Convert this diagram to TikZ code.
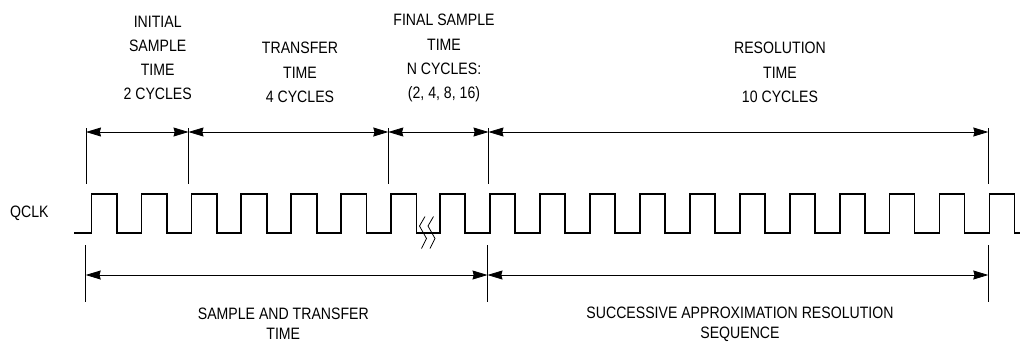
\documentclass[tikz,border=0pt]{standalone}
\usepackage{fontspec}
\setmainfont{Liberation Sans}[FakeStretch=0.855]
\usetikzlibrary{arrows.meta}
\begin{document}
\begin{tikzpicture}[x=1pt,y=-1pt,
  toplbl/.style={align=center,inner sep=0pt,anchor=north,font=\fontsize{16.5}{24.3}\selectfont},
  botlbl/.style={align=center,inner sep=0pt,anchor=north,font=\fontsize{16.5}{20}\selectfont},
  tick/.style={line width=0.8pt},
  dim/.style={line width=0.8pt,{Stealth[length=15pt,width=9pt,inset=1.2pt]}-{Stealth[length=15pt,width=9pt,inset=1.2pt]}},
  clk/.style={line width=1.8pt,line join=miter},
  brk/.style={line width=0.8pt}]
\useasboundingbox (0,0) rectangle (1020,341);

% top labels
\node[toplbl] (lInit) at (157.7,15.5) {INITIAL\\SAMPLE\\TIME\\2 CYCLES};
\node[toplbl] (lTrans) at (300,42) {TRANSFER\\TIME\\4 CYCLES};
\node[toplbl] (lFinal) at (444,14) {FINAL SAMPLE\\TIME\\N CYCLES:\\(2, 4, 8, 16)};
\node[toplbl] (lRes) at (780,42) {RESOLUTION\\TIME\\10 CYCLES};

% bottom labels
\node[botlbl] (lSat) at (283.3,307.3) {SAMPLE AND TRANSFER\\TIME};
\node[botlbl] (lSar) at (740,306.8) {SUCCESSIVE APPROXIMATION RESOLUTION\\SEQUENCE};

% clock label
\node[inner sep=0pt,anchor=west,font=\fontsize{16.5}{18}\selectfont] (qclk) at (10,213) {QCLK};

% top ticks
\foreach \n/\x in {a/86,b/188.5,c/388.3,d/488.5,e/988.3}{
  \coordinate (T\n) at (\x,132);
  \coordinate (T\n top) at (\x,128);
  \coordinate (T\n bot) at (\x,184);
  \draw[tick] (T\n top) -- (T\n bot);
}
\draw[dim] (Ta) -- (Tb);
\draw[dim] (Tb) -- (Tc);
\draw[dim] (Tc) -- (Td);
\draw[dim] (Td) -- (Te);

% bottom ticks
\foreach \n/\x in {a/85.7,b/487.5,c/988.3}{
  \coordinate (B\n) at (\x,275);
  \coordinate (B\n top) at (\x,245);
  \coordinate (B\n bot) at (\x,302);
  \draw[tick] (B\n top) -- (B\n bot);
}
\draw[dim] (Ba) -- (Bb);
\draw[dim] (Bb) -- (Bc);

% clock waveform
\draw[clk] (74,233)
  \foreach \k in {0,...,6}{
    -- ({91.5+49.95*\k},233) -- ({91.5+49.95*\k},194)
    -- ({116.8+49.95*\k},194) -- ({116.8+49.95*\k},233)
  }
  \foreach \k in {0,...,11}{
    -- ({440.3+49.92*\k},233) -- ({440.3+49.92*\k},194)
    -- ({465.3+49.92*\k},194) -- ({465.3+49.92*\k},233)
  }
  -- (1020,233);

% break mark
\draw[brk] (425,216.5) -- (419.5,226) -- (426.5,238.5) -- (421.5,248.5);
\draw[brk] (433.5,216.5) -- (428,226) -- (435,238.5) -- (430,248.5);
\end{tikzpicture}
\end{document}
